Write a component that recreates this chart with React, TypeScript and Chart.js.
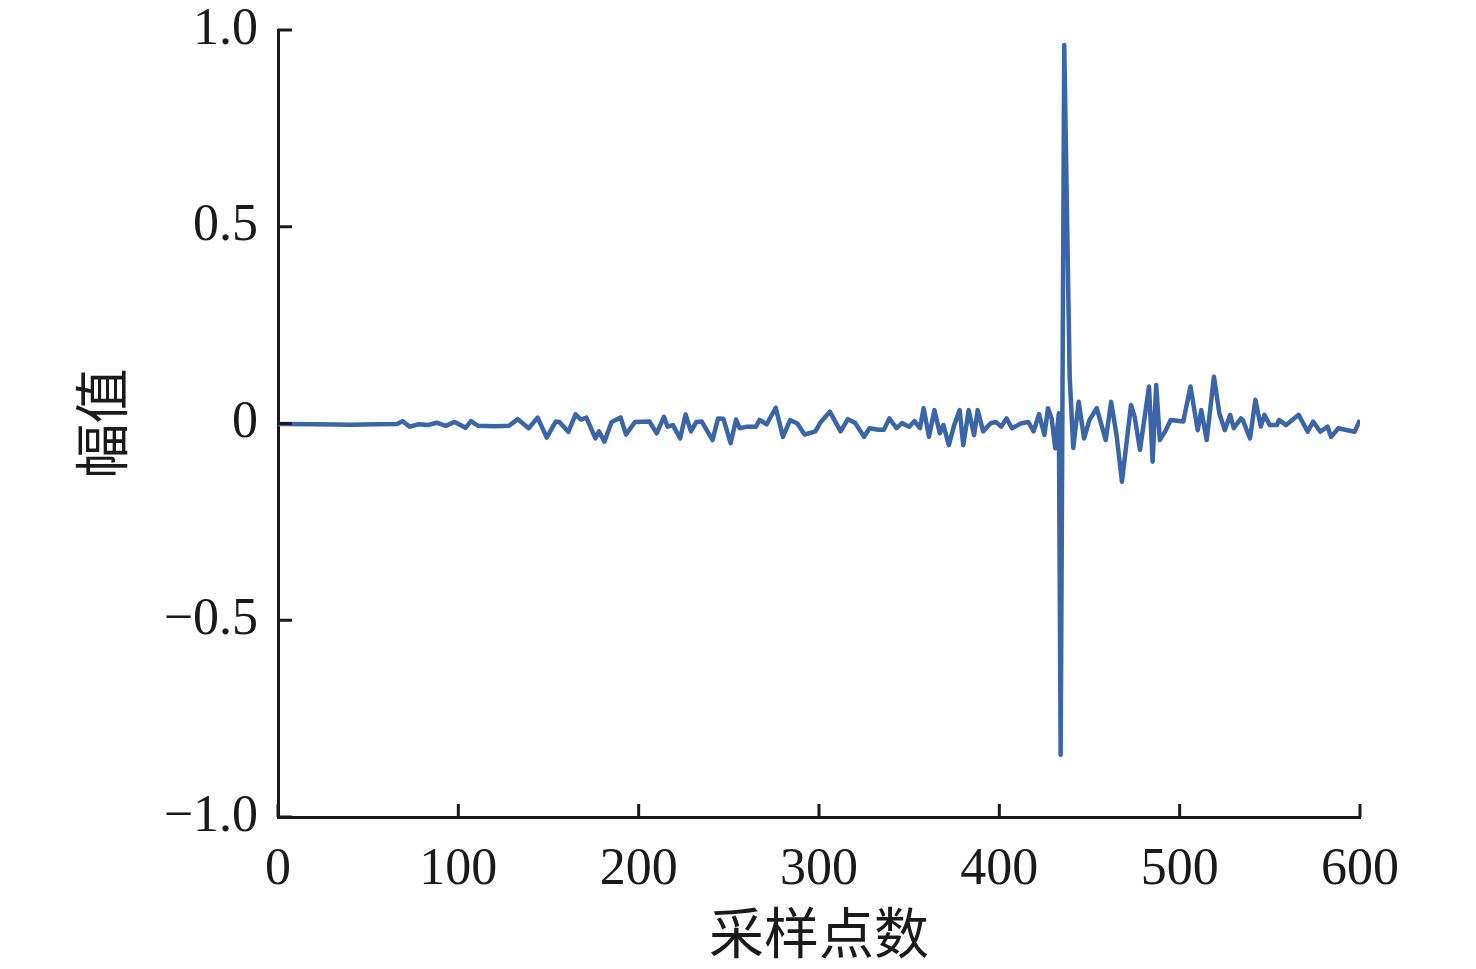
import React, { useEffect, useRef } from 'react';
import { Chart, ChartConfiguration, registerables } from 'chart.js';

Chart.register(...registerables);

// sample index of each turning point
const sampleIdx = [
  0, 20, 40, 55, 66, 69, 73, 78, 83, 88, 93, 98, 104, 107, 111, 120, 128, 133, 139, 144,
  149, 154, 156, 161, 165, 168, 171, 176, 178, 181, 185, 190, 193, 198, 206, 210, 214, 216, 219, 223,
  226, 229, 232, 235, 241, 244, 247, 251, 254, 256, 260, 265, 267, 271, 276, 280, 284, 288, 292, 298,
  301, 306, 312, 316, 320, 325, 328, 333, 336, 339, 343, 346, 350, 353, 356, 358, 361, 364, 367, 369,
  372, 375, 378, 380, 383, 386, 388, 391, 395, 398, 401, 404, 407, 412, 416, 419, 422, 425, 427, 429,
  431, 433, 434, 436, 439, 441, 444, 447, 450, 454, 459, 462, 465, 468, 473, 475, 478, 483, 485, 487,
  489, 492, 495, 502, 506, 510, 512, 515, 519, 522, 525, 528, 530, 534, 535, 539, 542, 545, 547, 550,
  554, 555, 559, 566, 571, 574, 578, 582, 584, 588, 593, 597, 600,
];

// amplitude at each of those samples
const amplitude = [
  -0.001, -0.002, -0.003, -0.002, -0.001, 0.006, -0.008, -0.002, -0.004, 0.002, -0.006, 0.004, -0.011, 0.006, -0.006, -0.007, -0.006, 0.011, -0.012, 0.015,
  -0.036, 0.005, 0.004, -0.021, 0.023, 0.01, 0.015, -0.038, -0.02, -0.046, 0.004, 0.015, -0.028, 0.004, 0.005, -0.025, 0.017, -0.008, -0.004, -0.038,
  0.023, -0.02, 0.004, 0.005, -0.042, 0.013, 0.012, -0.05, 0.01, -0.012, -0.008, -0.008, 0.009, -0.002, 0.04, -0.034, 0.009, 0.0, -0.028, -0.02,
  0.004, 0.03, -0.02, 0.011, 0.002, -0.034, -0.012, -0.016, -0.016, 0.013, -0.012, 0.001, -0.008, 0.006, -0.012, 0.039, -0.034, 0.034, -0.025, -0.004,
  -0.055, -0.004, 0.034, -0.055, 0.034, -0.03, 0.034, -0.02, 0.0, 0.004, -0.008, 0.013, -0.012, 0.0, 0.004, -0.02, 0.024, -0.029, 0.039, 0.013,
  -0.063, 0.026, -0.842, 0.962, 0.12, -0.062, 0.055, -0.038, 0.009, 0.039, -0.042, 0.055, -0.03, -0.148, 0.047, 0.018, -0.067, 0.094, -0.097, 0.098,
  -0.042, -0.02, 0.009, 0.005, 0.094, -0.017, 0.034, -0.042, 0.119, 0.026, -0.017, 0.022, -0.012, 0.013, 0.009, -0.038, 0.06, -0.008, 0.022, -0.004,
  -0.004, 0.009, -0.004, 0.022, -0.021, 0.005, -0.021, -0.008, -0.034, -0.012, -0.017, -0.021, 0.009,
];

const xTicks = [0, 100, 200, 300, 400, 500, 600];
const yTicks = [-1.0, -0.5, 0, 0.5, 1.0];

const serif = '"Liberation Serif", "DejaVu Serif", serif';
const cjk = '"Noto Sans CJK SC", sans-serif';

// ticks in this figure point into the plot area
const innerTicks = {
  id: 'innerTicks',
  afterDraw(chart: Chart) {
    const { ctx, chartArea } = chart;
    const xs = chart.scales.x;
    const ys = chart.scales.y;
    ctx.save();
    ctx.strokeStyle = '#1a1a1a';
    ctx.lineWidth = 3;
    ctx.beginPath();
    xTicks.forEach((v) => {
      const px = xs.getPixelForValue(v);
      ctx.moveTo(px, chartArea.bottom);
      ctx.lineTo(px, chartArea.bottom - 13);
    });
    yTicks.forEach((v) => {
      const py = ys.getPixelForValue(v);
      ctx.moveTo(chartArea.left, py);
      ctx.lineTo(chartArea.left + 14, py);
    });
    ctx.stroke();
    ctx.restore();
  },
};

const App: React.FC = () => {
  const canvasRef = useRef<HTMLCanvasElement>(null);
  const chartRef = useRef<Chart | null>(null);

  useEffect(() => {
    document.body.style.margin = '0';
    if (!canvasRef.current) return;
    if (chartRef.current) chartRef.current.destroy();

    const ctx = canvasRef.current.getContext('2d');
    if (!ctx) return;

    const points = sampleIdx.map((x, i) => ({ x, y: amplitude[i] }));

    const config: ChartConfiguration = {
      type: 'line',
      data: {
        datasets: [{
          label: '幅值',
          data: points,
          borderColor: '#3a65a8',
          borderWidth: 4.5,
          borderJoinStyle: 'round',
          pointRadius: 0,
          tension: 0,
          fill: false,
        }],
      },
      options: {
        responsive: true,
        maintainAspectRatio: false,
        animation: false,
        layout: { padding: { left: 0, right: 116, top: 30, bottom: 0 } },
        plugins: {
          legend: { display: false },
          tooltip: { enabled: false },
        },
        scales: {
          x: {
            type: 'linear',
            min: 0,
            max: 600,
            afterBuildTicks: (scale) => {
              scale.ticks = xTicks.map((value) => ({ value }));
            },
            afterFit: (scale) => {
              scale.height = 152;
              scale.paddingLeft = 0;
              scale.paddingRight = 0;
            },
            grid: { display: false, drawTicks: false },
            border: { display: true, color: '#1a1a1a', width: 3 },
            ticks: {
              color: '#1a1a1a',
              font: { family: serif, size: 52 },
              padding: 22,
              maxRotation: 0,
            },
            title: {
              display: true,
              text: '采样点数',
              color: '#1a1a1a',
              font: { family: cjk, size: 55 },
              padding: { top: 0, bottom: 4 },
            },
          },
          y: {
            type: 'linear',
            min: -1,
            max: 1,
            afterBuildTicks: (scale) => {
              scale.ticks = yTicks.map((value) => ({ value }));
            },
            afterFit: (scale) => {
              scale.width = 278;
              scale.paddingTop = 0;
              scale.paddingBottom = 0;
            },
            grid: { display: false, drawTicks: false },
            border: { display: true, color: '#1a1a1a', width: 3 },
            ticks: {
              color: '#1a1a1a',
              font: { family: serif, size: 52 },
              padding: 20,
              callback: (v) => {
                const n = Number(v);
                if (n === 0) return '0';
                return n.toFixed(1).replace('-', '\u2212');
              },
            },
            title: {
              display: true,
              text: '幅值',
              color: '#1a1a1a',
              font: { family: cjk, size: 55 },
              padding: { top: 68, bottom: 0 },
            },
          },
        },
      },
      plugins: [innerTicks],
    };

    chartRef.current = new Chart(ctx, config);

    return () => {
      if (chartRef.current) {
        chartRef.current.destroy();
        chartRef.current = null;
      }
    };
  }, []);

  return (
    <div style={{ width: 1476, height: 969, position: 'relative', background: '#fff' }}>
      <canvas ref={canvasRef} aria-label="采样点数-幅值 曲线" />
    </div>
  );
};

export default App;
